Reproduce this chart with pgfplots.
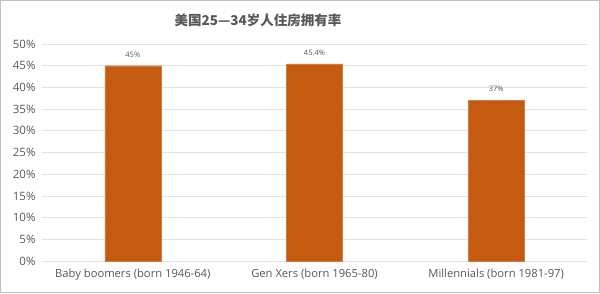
\documentclass[border=0pt]{standalone}
\usepackage{pgfplots}
\pgfplotsset{compat=1.18}
\usepackage{fontspec}
\setmainfont{Open Sans}
\newfontfamily\cjk{Noto Sans CJK SC}
\definecolor{barc}{HTML}{C55A11}
\definecolor{txt}{HTML}{595959}
\definecolor{gridc}{HTML}{E3E3E3}
\begin{document}
\begin{tikzpicture}[x=1pt,y=1pt]
\useasboundingbox (-42,-32) rectangle (558,261);
\fill[white] (-42,-32) rectangle (558,261);
\draw[gray!50, line width=0.8pt] (-41.6,-31.6) rectangle (557.6,260.6);
\begin{axis}[
  at={(0,0)}, anchor=south west,
  scale only axis, width=545pt, height=217pt,
  xmin=-0.5, xmax=2.5, ymin=0, ymax=50,
  ytick={0,5,...,50},
  yticklabel={\pgfmathprintnumber{\tick}\%},
  /pgf/number format/assume math mode=true,
  xtick=data,
  xticklabels={Baby boomers (born 1946-64),Gen Xers (born 1965-80),Millennials (born 1981-97)},
  axis line style={draw=none},
  major tick length=0pt,
  ymajorgrids, grid style={gridc, line width=0.8pt},
  yticklabel style={font=\fontsize{11.5}{13}\selectfont, text=txt, xshift=-3pt},
  xticklabel style={font=\fontsize{11.2}{13}\selectfont, text=txt, yshift=-4pt},
  ybar, bar width=56pt,
  nodes near coords={\pgfmathprintnumber{\pgfplotspointmeta}\%},
  nodes near coords style={font=\fontsize{7.5}{8}\selectfont, text=txt, yshift=5pt},
  point meta=explicit,
]
\addplot[fill=barc, draw=barc!80!white] coordinates {(0,45) [45] (1,45.4) [45.4] (2,37) [37]};
\end{axis}
\node[font=\cjk\bfseries\fontsize{13.5}{15}\selectfont, text=txt] at (216,241) {美国25—34岁人住房拥有率};
\end{tikzpicture}
\end{document}
